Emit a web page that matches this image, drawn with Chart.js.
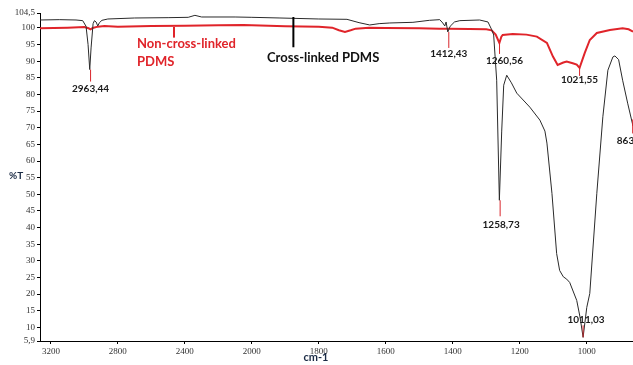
<!DOCTYPE html>
<html>
<head>
<meta charset="utf-8">
<script src="https://cdn.jsdelivr.net/npm/chart.js@4.4.0/dist/chart.umd.min.js"></script>
<style>
  html, body { margin: 0; padding: 0; background: #fff; }
  #wrap { width: 633px; height: 365px; }
</style>
</head>
<body>
<div id="wrap"><canvas id="ftir"></canvas></div>
<script>
// wavenumber (cm-1) and %T
var crossNu = [3265, 3150, 3050, 3010, 2990, 2978, 2968, 2960, 2948, 2940, 2930, 2920, 2910, 2895, 2860, 2700, 2500, 2380, 2340, 2300, 2100, 2000,
  1916, 1800, 1716, 1680, 1648, 1620, 1588, 1519, 1470, 1439, 1430, 1424, 1420, 1415, 1408, 1395, 1379, 1320, 1295, 1284, 1278, 1269,
  1261, 1254, 1248, 1239, 1225, 1209, 1170, 1140, 1125, 1119, 1104, 1090, 1081, 1070, 1060, 1051, 1030, 1020, 1011, 1000, 991, 970, 952, 937, 922,
  916, 905, 893, 878, 862];
var crossT = [102.4, 102.5, 102.4, 102.2, 100.5, 95, 87.5, 94, 101.3, 102.2, 101.8, 100.6, 101.6, 102.3, 102.7, 103.0, 103.1, 103.2, 103.8, 103.3, 103.3, 103.2,
  103.0, 102.7, 102.6, 101.6, 100.9, 101.3, 101.5, 101.7, 102.3, 102.5, 101.5, 100.6, 101.8, 98.8, 100.5, 101.8, 102.2, 102.4, 101.8, 99.5, 97.9, 84.3,
  48.2, 69, 82.8, 85.8, 83.5, 80.4, 76.2, 72.3, 69, 65.4, 50.3, 32.2, 27.1, 25.2, 24.5, 23.5, 18.1, 13, 7, 16, 20.2, 50.3, 73.3, 87.3, 91.3,
  91.6, 90.5, 84.3, 77.4, 70.5];

var nonNu = [3265, 3100, 3000, 2975, 2963, 2950, 2920, 2880, 2800, 2600, 2400, 2200, 2050, 2000, 1900, 1800, 1760, 1740, 1722, 1705,
  1690, 1650, 1600, 1500, 1440, 1412, 1350, 1300, 1284, 1272, 1261, 1255, 1251, 1221, 1180, 1149, 1119, 1101, 1087, 1070, 1060,
  1042, 1030, 1021.5, 1006, 991, 970, 931, 893, 875, 862];
var nonT = [99.9, 100.1, 100.3, 99.9, 99.6, 100, 100.4, 100.6, 100.4, 100.6, 100.7, 100.8, 100.9, 100.8, 100.5, 100.4, 100.1, 99.3, 98.8, 99.3,
  99.8, 100.1, 100.0, 99.9, 99.8, 99.8, 99.7, 99.6, 99.3, 98, 95.5, 97.4, 97.9, 98.2, 98.0, 97.4, 95.5, 91.4, 88.9, 89.6, 89.9,
  89.4, 89, 88, 92.5, 96.4, 98.5, 99.4, 99.9, 99.6, 98.9];

var xTicks = [3200, 2800, 2400, 2000, 1800, 1600, 1400, 1200, 1000];
var yTicks = [5.9, 10, 15, 20, 25, 30, 35, 40, 45, 50, 55, 60, 65, 70, 75, 80, 85, 90, 95, 100, 104.5];

// peak labels: text, wavenumber, %T at tip of the stick
var peakText = ['2963,44', '1412,43', '1260,56', '1021,55', '1258,73', '1011,03', '863,'];
var peakNu   = [2963, 1412, 1260.5, 1021.5, 1258.7, 1011, 863];
var peakT    = [87.5, 98.8, 95.5, 88, 48.2, 7, 72.5];

// the axis is compressed by 2 above 2000 cm-1, like the instrument software
function warp(nu) { return nu <= 2000 ? nu : 2000 + (nu - 2000) / 2; }
function unwarp(u) { return u <= 2000 ? u : 2000 + (u - 2000) * 2; }

function toPoints(nu, t) {
  return nu.map(function (n, i) { return { x: warp(n), y: t[i] }; });
}

var labelsPlugin = {
  id: 'labels',
  afterDatasetsDraw: function (chart) {
    var ctx = chart.ctx;
    var xs = chart.scales.x, ys = chart.scales.y;
    var px = function (n) { return xs.getPixelForValue(warp(n)); };
    var py = function (t) { return ys.getPixelForValue(t); };
    ctx.save();

    function stick(x, y1, y2, color, w) {
      ctx.strokeStyle = color;
      ctx.lineWidth = w;
      ctx.beginPath();
      ctx.moveTo(x, y1);
      ctx.lineTo(x, y2);
      ctx.stroke();
    }

    // peak sticks (pixel offsets from the tip) and labels
    var stickLen = [12, 16, 11, 8, 16, -12, 14];
    var textDy   = [19, 22, 18, 12, 24, -18, 21];
    var textDx   = [0, 0, 5, 0, 1, 3, -6];
    ctx.font = 'bold 10px Lato';
    ctx.textAlign = 'center';
    ctx.textBaseline = 'middle';
    for (var i = 0; i < peakText.length; i++) {
      var x = px(peakNu[i]), y = py(peakT[i]);
      stick(x, y, y + stickLen[i], '#d9262c', 1);
      ctx.fillStyle = '#1a1a1a';
      ctx.fillText(peakText[i], x + textDx[i], y + textDy[i]);
    }

    // series names
    var xr = px(2465);
    stick(xr, py(100.3), py(97.1), '#e0242a', 2);
    ctx.font = 'bold 13px Lato';
    ctx.textAlign = 'left';
    ctx.fillStyle = '#e0242a';
    ctx.fillText('Non-cross-linked', 137, 44);
    ctx.fillText('PDMS', 137, 62);

    var xb = px(1876);
    stick(xb, py(103.3), py(94.2), '#000', 2);
    ctx.fillStyle = '#111';
    ctx.fillText('Cross-linked PDMS', 267, 58);

    // axis titles
    ctx.font = 'bold 10px Lato';
    ctx.textAlign = 'left';
    ctx.fillStyle = '#1a2a44';
    ctx.fillText('%T', 9, 176);
    ctx.font = 'bold 11px Lato';
    ctx.textAlign = 'center';
    ctx.fillText('cm-1', 316, 357);
    ctx.restore();
  }
};

var chart = new Chart(document.getElementById('ftir').getContext('2d'), {
  type: 'scatter',
  data: {
    datasets: [{
      label: 'Cross-linked PDMS',
      data: toPoints(crossNu, crossT),
      showLine: true,
      borderColor: '#2a2a2a',
      borderWidth: 1,
      pointRadius: 0,
      tension: 0
    }, {
      label: 'Non-cross-linked PDMS',
      data: toPoints(nonNu, nonT),
      showLine: true,
      borderColor: '#e0242a',
      borderWidth: 2,
      pointRadius: 0,
      tension: 0
    }]
  },
  options: {
    responsive: true,
    maintainAspectRatio: false,
    animation: false,
    layout: { padding: { top: 13, left: 0, right: 0, bottom: 0 } },
    plugins: {
      legend: { display: false },
      tooltip: { enabled: false }
    },
    scales: {
      x: {
        type: 'linear',
        reverse: true,
        min: warp(862),
        max: warp(3265),
        afterBuildTicks: function (scale) {
          scale.ticks = xTicks.map(function (v) { return { value: warp(v) }; });
        },
        afterFit: function (scale) { scale.height = 24; },
        grid: { drawOnChartArea: false, drawTicks: true, tickLength: 3, color: '#000' },
        border: { display: true, color: '#000', width: 1 },
        ticks: {
          autoSkip: false,
          maxRotation: 0,
          padding: 2,
          color: '#333',
          font: { family: 'Liberation Serif', size: 9 },
          callback: function (value) { return String(Math.round(unwarp(value))); }
        }
      },
      y: {
        min: 5.9,
        max: 104.5,
        afterBuildTicks: function (scale) {
          scale.ticks = yTicks.map(function (v) { return { value: v }; });
        },
        afterFit: function (scale) { scale.width = 40; },
        grid: { drawOnChartArea: false, drawTicks: true, tickLength: 3, color: '#000' },
        border: { display: true, color: '#000', width: 1 },
        ticks: {
          autoSkip: false,
          padding: 2,
          color: '#333',
          font: { family: 'Liberation Serif', size: 9 },
          callback: function (value) { return String(value).replace('.', ','); }
        }
      }
    }
  },
  plugins: [labelsPlugin]
});
</script>
</body>
</html>
